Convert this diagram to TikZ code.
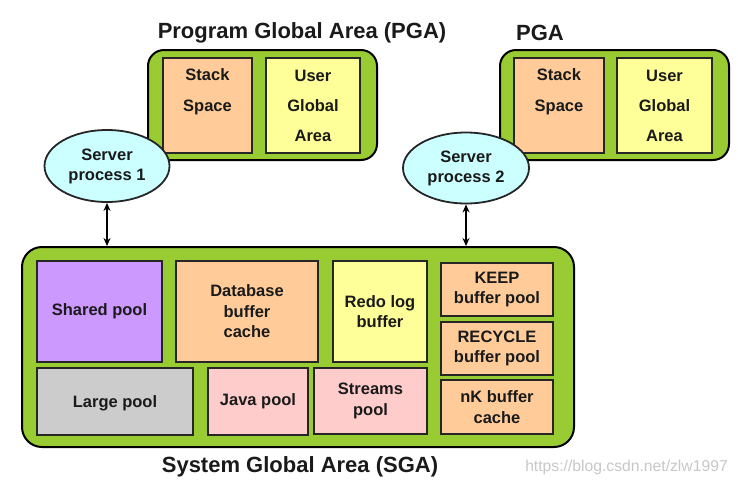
\documentclass[tikz,border=0pt]{standalone}
\usepackage{fontspec}
\setmainfont{Liberation Sans}
\usetikzlibrary{arrows.meta,shapes.geometric}
\definecolor{pgagreen}{HTML}{99CC33}
\definecolor{boxorange}{HTML}{FFCC99}
\definecolor{boxyellow}{HTML}{FFFF99}
\definecolor{boxpurple}{HTML}{CC99FF}
\definecolor{boxgray}{HTML}{CCCCCC}
\definecolor{boxpink}{HTML}{FFCCCC}
\definecolor{proccyan}{HTML}{CCFFFF}
\definecolor{txt}{HTML}{1A1A1A}
\tikzset{
  area/.style={draw=black, line width=2pt, fill=pgagreen, rounded corners=16pt, inner sep=0pt},
  mem/.style={draw=black!85, line width=2.4pt, inner sep=0pt, align=center, text=txt,
    font=\fontsize{16.5}{20.5}\selectfont\bfseries},
  proc/.style={draw=black!85, line width=1.8pt, ellipse, fill=proccyan, inner sep=0pt, align=center,
    text=txt, font=\fontsize{16.5}{20}\selectfont\bfseries},
  ttl/.style={text=txt, font=\fontsize{22}{26}\selectfont\bfseries, inner sep=0pt},
  link/.style={line width=1.5pt, {Stealth[length=8pt,width=7pt]}-{Stealth[length=8pt,width=7pt]}},
}
\begin{document}
\begin{tikzpicture}[x=1pt, y=-1pt]
\useasboundingbox (0,0) rectangle (738,488);
% PGA 1
\node[area, minimum width=229pt, minimum height=110pt] (pga1) at (262.5,105) {};
\node[mem, fill=boxorange, minimum width=89pt, minimum height=95pt,
  font=\fontsize{16.5}{31}\selectfont\bfseries] (stack1) at (207.5,105.5) {Stack\\Space\\\mbox{}};
\node[mem, fill=boxyellow, minimum width=94pt, minimum height=95pt,
  font=\fontsize{16.5}{30}\selectfont\bfseries] (uga1) at (313,105.5) {User\\Global\\Area};
\node[ttl] (t1) at (302,33) {Program Global Area (PGA)};
% PGA 2
\node[area, minimum width=229pt, minimum height=110pt] (pga2) at (614.5,105) {};
\node[mem, fill=boxorange, minimum width=90pt, minimum height=95pt,
  font=\fontsize{16.5}{31}\selectfont\bfseries] (stack2) at (559,105.5) {Stack\\Space\\\mbox{}};
\node[mem, fill=boxyellow, minimum width=95pt, minimum height=95pt,
  font=\fontsize{16.5}{30}\selectfont\bfseries] (uga2) at (664.5,105.5) {User\\Global\\Area};
\node[ttl] (t2) at (540,33) {PGA};
% server processes
\node[proc, minimum width=125pt, minimum height=72pt] (sp1) at (107,166) {Server\\process 1};
\node[proc, minimum width=126pt, minimum height=71pt] (sp2) at (466,168) {Server\\process 2};
% SGA
\node[area, rounded corners=20pt, minimum width=552pt, minimum height=200pt] (sga) at (298,347) {};
\node[mem, fill=boxpurple, minimum width=125pt, minimum height=101pt] (shared) at (99.5,311.5) {Shared pool};
\node[mem, fill=boxorange, minimum width=142pt, minimum height=101pt] (dbc) at (247,311.5) {Database\\buffer\\cache};
\node[mem, fill=boxyellow, minimum width=94pt, minimum height=101pt] (redo) at (380,311.5) {Redo log\\buffer};
\node[mem, fill=boxorange, minimum width=112pt, minimum height=53pt] (keep) at (497,289.5) {KEEP\\buffer pool};
\node[mem, fill=boxorange, minimum width=112pt, minimum height=53pt] (recycle) at (497,348.5) {RECYCLE\\buffer pool};
\node[mem, fill=boxorange, minimum width=112pt, minimum height=54pt] (nk) at (497,407) {nK buffer\\cache};
\node[mem, fill=boxgray, minimum width=156pt, minimum height=67pt, text depth=-3pt] (large) at (115,401.5) {Large pool};
\node[mem, fill=boxpink, minimum width=100pt, minimum height=67pt] (java) at (258,401.5) {Java pool};
\node[mem, fill=boxpink, minimum width=113pt, minimum height=66pt] (streams) at (370.5,401) {Streams\\pool};
\node[ttl] (t3) at (300,467) {System Global Area (SGA)};
% connectors
\draw[link] (sp1.south) -- (sp1.south |- sga.north);
\draw[link] (sp2.south) -- (sp2.south |- sga.north);
% watermark
\node[text=black!22, font=\fontsize{15.7}{18}\selectfont, inner sep=0pt] (wm) at (626.5,467) {https://blog.csdn.net/zlw1997};
\end{tikzpicture}
\end{document}
